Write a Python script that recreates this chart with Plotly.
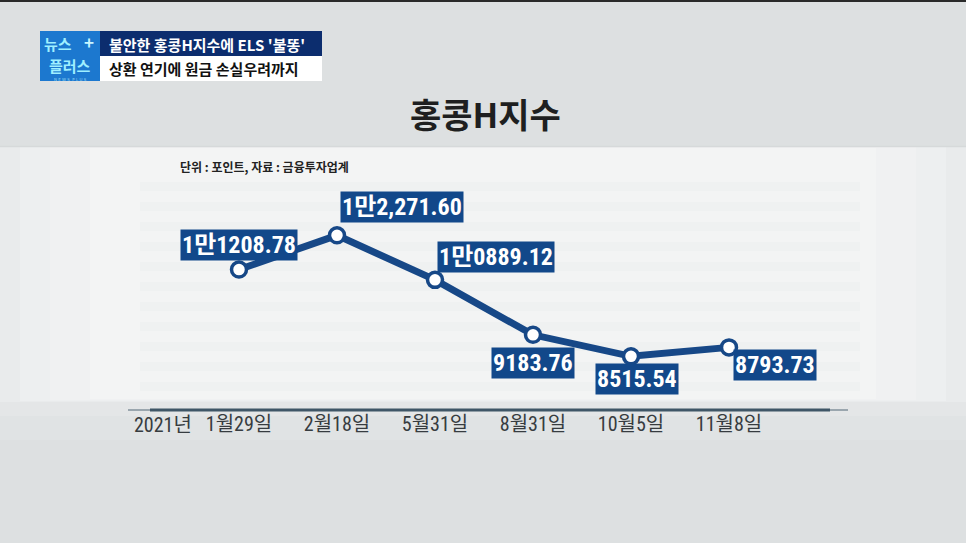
import plotly.graph_objects as go

# ---- data ----
dates = ["1월29일", "2월18일", "5월31일", "8월31일", "10월5일", "11월8일"]
values = [11208.78, 12271.60, 10889.12, 9183.76, 8515.54, 8793.73]
value_labels = ["1만1208.78", "1만2,271.60", "1만0889.12", "9183.76", "8515.54", "8793.73"]
year_label = "2021년"
title_text = "홍콩H지수"
unit_text = "단위 : 포인트, 자료 : 금융투자업계"
headline1 = "불안한 홍콩H지수에 ELS '불똥'"
headline2 = "상환 연기에 원금 손실우려까지"

# ---- layout helpers ----
W, H = 966, 543
def px(x):
    return x / W
def py(y):
    return 1 - y / H

NAVY = "#174887"
LABEL_BG = "#12488a"
NUM_FONT = "Liberation Sans Narrow, Roboto Condensed, Noto Sans CJK KR, sans-serif"
KR_FONT = "Noto Sans CJK KR, sans-serif"

# label placement: (xanchor, yanchor, xshift, yshift)
label_place = [
    ("center", "bottom", 0, 9),
    ("left", "bottom", 3, 12),
    ("left", "bottom", 2, 7),
    ("center", "top", 0, -12),
    ("center", "top", 6, -7),
    ("left", "top", 4, -2),
]

fig = go.Figure()
fig.add_trace(go.Scatter(
    x=dates, y=values, mode="lines+markers",
    line=dict(color=NAVY, width=7),
    marker=dict(size=15, color="white", line=dict(color=NAVY, width=3.5)),
    hoverinfo="skip", showlegend=False,
))

shapes = []
def rect(x0, x1, y0, y1, color, opacity=1.0, layer="below"):
    shapes.append(dict(type="rect", xref="paper", yref="paper", x0=px(x0), x1=px(x1),
                       y0=py(y1), y1=py(y0), fillcolor=color, opacity=opacity,
                       line_width=0, layer=layer))

# top dark strip
rect(0, W, 0, 2, "#2a2a2a")
# chart panel with soft fade
rect(0, W, 146, 402, "#e9ebec")
rect(20, 946, 147, 401, "#edeff0")
rect(50, 916, 147, 400, "#f0f1f2")
rect(90, 876, 148, 399, "#f3f4f4")
rect(0, W, 402, 416, "#e4e6e7")
rect(0, W, 416, 440, "#e0e3e4")
shapes.append(dict(type="line", xref="paper", yref="paper", x0=0, x1=1, y0=py(146.5), y1=py(146.5),
                   line=dict(color="#d6d9da", width=1.5), layer="below"))
# faint horizontal stripes
for yy in range(182, 400, 20):
    rect(140, 860, yy, yy + 9, "#e4e6e7", opacity=0.25)
# baseline
shapes.append(dict(type="line", xref="paper", yref="paper", x0=px(150), x1=px(830), y0=py(410), y1=py(410),
                   line=dict(color="#3f5667", width=3), layer="below"))
shapes.append(dict(type="line", xref="paper", yref="paper", x0=px(128), x1=px(150), y0=py(410), y1=py(410),
                   line=dict(color="#9aa6ae", width=2), layer="below"))
shapes.append(dict(type="line", xref="paper", yref="paper", x0=px(830), x1=px(848), y0=py(410), y1=py(410),
                   line=dict(color="#9aa6ae", width=2), layer="below"))
# banner
rect(40, 100, 31, 81, "#1c78cf", layer="above")
rect(100, 322, 31, 56, "#0c2d6e", layer="above")
rect(100, 322, 56, 81, "#ffffff", layer="above")

annotations = []
# value labels attached to points
for d, v, t, (xa, ya, xs, ys) in zip(dates, values, value_labels, label_place):
    annotations.append(dict(
        x=d, y=v, xref="x", yref="y", text=t, showarrow=False,
        xanchor=xa, yanchor=ya, xshift=xs, yshift=ys,
        bgcolor=LABEL_BG, borderpad=1,
        font=dict(family=NUM_FONT, size=24, color="white", weight="bold"),
    ))
# year label
annotations.append(dict(x=px(163), y=py(425), xref="paper", yref="paper", text=year_label,
                        showarrow=False, xanchor="center", yanchor="middle",
                        font=dict(family=NUM_FONT, size=20, color="#373c40")))
# title & unit
annotations.append(dict(x=px(486), y=py(113), xref="paper", yref="paper", text=title_text,
                        showarrow=False, xanchor="center", yanchor="middle",
                        font=dict(family=KR_FONT, size=34, color="#1e1f20", weight="bold")))
annotations.append(dict(x=px(178), y=py(166), xref="paper", yref="paper", text=unit_text,
                        showarrow=False, xanchor="left", yanchor="middle",
                        font=dict(family=KR_FONT, size=12, color="#222222", weight="bold")))
# banner texts
annotations.append(dict(x=px(107), y=py(44), xref="paper", yref="paper", text=headline1,
                        showarrow=False, xanchor="left", yanchor="middle",
                        font=dict(family=KR_FONT, size=15, color="white", weight="bold")))
annotations.append(dict(x=px(107), y=py(68.5), xref="paper", yref="paper", text=headline2,
                        showarrow=False, xanchor="left", yanchor="middle",
                        font=dict(family=KR_FONT, size=15, color="#111111", weight="bold")))
annotations.append(dict(x=px(42), y=py(43), xref="paper", yref="paper", text="뉴스",
                        showarrow=False, xanchor="left", yanchor="middle",
                        font=dict(family=KR_FONT, size=15, color="#9fefff", weight="bold")))
annotations.append(dict(x=px(89), y=py(41), xref="paper", yref="paper", text="+",
                        showarrow=False, xanchor="center", yanchor="middle",
                        font=dict(family=KR_FONT, size=17, color="#c8f6ff", weight="bold")))
annotations.append(dict(x=px(70), y=py(65), xref="paper", yref="paper", text="플러스",
                        showarrow=False, xanchor="center", yanchor="middle",
                        font=dict(family=KR_FONT, size=15, color="#9fefff", weight="bold")))
annotations.append(dict(x=px(70), y=py(79.5), xref="paper", yref="paper", text="N E W S  P L U S",
                        showarrow=False, xanchor="center", yanchor="middle",
                        font=dict(family="DejaVu Sans", size=4, color="#8fd4f0")))

# axis ranges mapping categories to pixel columns (first point at x=239, step 98)
x0_px, step_px = 239, 98
xrange = [(0 - x0_px) / step_px, (W - x0_px) / step_px]

fig.update_layout(
    width=W, height=H,
    margin=dict(l=0, r=0, t=0, b=0),
    paper_bgcolor="#dde0e1",
    plot_bgcolor="rgba(0,0,0,0)",
    showlegend=False,
    shapes=shapes,
    annotations=annotations,
    xaxis=dict(type="category", range=xrange, domain=[0, 1],
               showgrid=False, zeroline=False, showline=False, ticks="",
               tickfont=dict(family=NUM_FONT, size=20, color="#373c40"),
               fixedrange=True),
    yaxis=dict(range=[6850, 14920], domain=[(H - 410) / H, (H - 150) / H],
               showgrid=False, zeroline=False, showline=False, showticklabels=False,
               fixedrange=True),
)

fig.write_html("out.html", config={"displayModeBar": False},
               post_script="document.body.style.margin='0';document.body.style.overflow='hidden';")
